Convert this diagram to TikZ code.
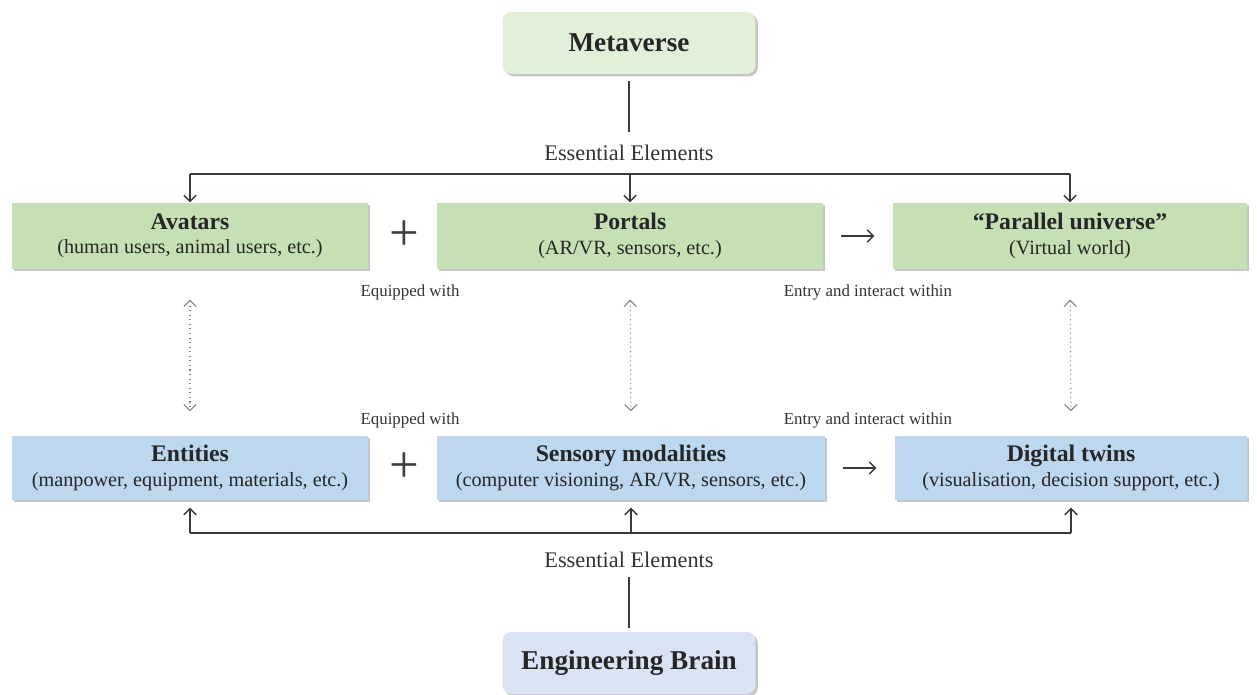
\documentclass[tikz,border=0pt]{standalone}
\usepackage{fontspec}
\setmainfont{Liberation Serif}
\usetikzlibrary{arrows.meta, positioning, shadows}

\definecolor{metafill}{HTML}{E2F0D9}
\definecolor{greenfill}{HTML}{C5E0B4}
\definecolor{bluefill}{HTML}{BDD7EE}
\definecolor{brainfill}{HTML}{DAE3F3}
\definecolor{linegray}{HTML}{3A3A3A}

\begin{document}
\begin{tikzpicture}[x=0.02cm, y=-0.02cm, line width=0.8pt, >={Straight Barb[length=3.5pt,width=7pt]},
  box/.style={minimum height=1.32cm, align=center, inner sep=0pt, text=black!85,
    drop shadow={shadow xshift=1.3pt, shadow yshift=-1.3pt, fill=black!50, opacity=0.45}},
  hub/.style={box, rounded corners=5pt, minimum width=5.06cm, minimum height=1.24cm,
    font=\fontsize{15.5}{18}\selectfont\bfseries},
  label/.style={inner sep=0pt, text=black!80, font=\fontsize{12.7}{14}\selectfont},
  small/.style={inner sep=0pt, text=black!80, font=\fontsize{9.6}{11}\selectfont},
  plus/.style={inner sep=0pt, text=black!75, font=\fontsize{30}{30}\selectfont},
  link/.style={draw=linegray},
  twin/.style={draw=black!50, line width=0.6pt, dotted, <->}]

  \useasboundingbox (0,0) rectangle (1257,695);

  % Hubs
  \node[hub, fill=metafill] (meta) at (629,43) {Metaverse};
  \node[hub, fill=brainfill] (brain) at (629,663) {Engineering Brain};

  % Upper row
  \node[box, fill=greenfill, minimum width=7.12cm] (avatars) at (190,236)
    {{\fontsize{13.5}{15}\selectfont\bfseries Avatars}\\[2pt]\fontsize{11.5}{13}\selectfont(human users, animal users, etc.)};
  \node[box, fill=greenfill, minimum width=7.72cm] (portals) at (630,236)
    {{\fontsize{13.5}{15}\selectfont\bfseries Portals}\\[2pt]\fontsize{11.5}{13}\selectfont(AR/VR, sensors, etc.)};
  \node[box, fill=greenfill, minimum width=7.08cm] (universe) at (1070,236)
    {{\fontsize{13.5}{15}\selectfont\bfseries “Parallel universe”}\\[2pt]\fontsize{11.5}{13}\selectfont(Virtual world)};

  % Lower row
  \node[box, fill=bluefill, minimum width=7.12cm, minimum height=1.28cm] (entities) at (190,468)
    {{\fontsize{13.5}{15}\selectfont\bfseries Entities}\\[2pt]\fontsize{11.5}{13}\selectfont(manpower, equipment, materials, etc.)};
  \node[box, fill=bluefill, minimum width=7.76cm, minimum height=1.28cm] (sensory) at (631,468)
    {{\fontsize{13.5}{15}\selectfont\bfseries Sensory modalities}\\[2pt]\fontsize{11.5}{13}\selectfont(computer visioning, AR/VR, sensors, etc.)};
  \node[box, fill=bluefill, minimum width=7.04cm, minimum height=1.28cm] (twins) at (1071,468)
    {{\fontsize{13.5}{15}\selectfont\bfseries Digital twins}\\[2pt]\fontsize{11.5}{13}\selectfont(visualisation, decision support, etc.)};

  % Essential elements
  \node[label] (eeTop) at (629,153) {Essential Elements};
  \node[label] (eeBot) at (629,560) {Essential Elements};
  \coordinate (topL) at (avatars.north |- 0,174);
  \coordinate (topR) at (universe.north |- 0,174);
  \coordinate (botL) at (entities.south |- 0,533);
  \coordinate (botR) at (twins.south |- 0,533);

  \draw[link, shorten <=3.5pt, shorten >=7pt] (meta.south) -- (eeTop.north);
  \draw[link] (topL) -- (topR);
  \draw[link, ->] (topL) -- (avatars.north);
  \draw[link, ->] (portals.north |- topL) -- (portals.north);
  \draw[link, ->] (topR) -- (universe.north);

  \draw[link, shorten <=2pt, shorten >=5pt] (brain.north) -- (eeBot.south);
  \draw[link] (botL) -- (botR);
  \draw[link, ->, shorten >=4pt] (botL) -- (entities.south);
  \draw[link, ->, shorten >=4pt] (sensory.south |- botL) -- (sensory.south);
  \draw[link, ->, shorten >=4pt] (botR) -- (twins.south);

  % Plus signs and arrows
  \node[plus] (plusTop) at (404,236) {+};
  \node[plus] (plusBot) at (404,468) {+};
  \draw[link, ->, shorten <=0.34cm, shorten >=0.36cm] (portals.east) -- (universe.west);
  \draw[link, ->, shorten <=0.34cm, shorten >=0.36cm] (sensory.east) -- (twins.west);

  % Relations
  \node[small] (equipTop) at (410,292) {Equipped with};
  \node[small] (entryTop) at (868,292) {Entry and interact within};
  \node[small] (equipBot) at (410,420) {Equipped with};
  \node[small] (entryBot) at (868,420) {Entry and interact within};

  % Correspondences
  \draw[twin, shorten <=0.6cm, shorten >=0.48cm] (avatars.south) -- (entities.north);
  \draw[twin, shorten <=0.6cm, shorten >=0.48cm] (portals.south) -- (sensory.north);
  \draw[twin, shorten <=0.6cm, shorten >=0.48cm] (universe.south) -- (twins.north);

\end{tikzpicture}
\end{document}
